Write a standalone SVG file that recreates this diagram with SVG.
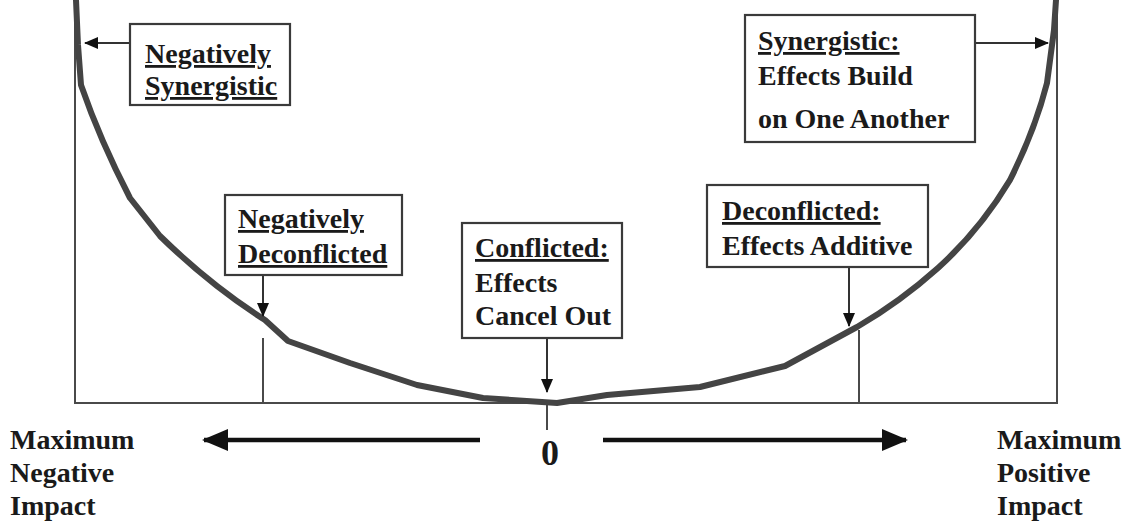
<svg xmlns="http://www.w3.org/2000/svg" width="1124" height="523" viewBox="0 0 1124 523">
  <style>
    .lbl { font-family: "Liberation Serif", "Times New Roman", serif; font-weight: bold; font-size: 28px; fill: #1a1a1a; }
    .u { text-decoration: underline; }
    .box { fill: #fff; stroke: #3a3a3a; stroke-width: 2.2; }
    .frame { fill: none; stroke: #4a4a4a; stroke-width: 2; }
    .curve { fill: none; stroke: #444; stroke-width: 6; stroke-linejoin: round; stroke-linecap: round; }
    .lead { stroke: #333; stroke-width: 2; fill: none; }
    .axis { stroke: #111; stroke-width: 4.5; fill: none; }
  </style>
  <defs>
    <marker id="tip" markerWidth="14" markerHeight="12" refX="13" refY="6" orient="auto" markerUnits="userSpaceOnUse">
      <path d="M0,0 L14,6 L0,12 Z" fill="#111"/>
    </marker>
    <marker id="bigtip" markerWidth="26" markerHeight="22" refX="24" refY="11" orient="auto" markerUnits="userSpaceOnUse">
      <path d="M0,0 L26,11 L0,22 Z" fill="#111"/>
    </marker>
  </defs>

  <rect width="1124" height="523" fill="#fff"/>

  <!-- frame: side walls, baseline and reference ticks -->
  <g id="frame">
    <path class="frame" d="M75,0 V403 H1057 V0"/>
    <line class="frame" x1="263" y1="338" x2="263" y2="403"/>
    <line class="frame" x1="859" y1="330" x2="859" y2="403"/>
    <line class="frame" x1="547" y1="403" x2="547" y2="430"/>
  </g>

  <!-- impact curve -->
  <g id="curve">
    <path class="curve" d="M76,0 L78,45 L81,85 Q100,140 130,198 L160,236 Q210,285 265,320 L288,341 L350,363 L417,385 L483,398 L557,403 L607,395 L700,387 L785,366 L857,327 Q900,302 938,268 Q980,230 1010,180 Q1035,130 1047,83 L1054,30 L1056,0"/>
  </g>

  <!-- connectors -->
  <g id="connectors">
    <line class="lead" x1="130" y1="43" x2="85" y2="43" marker-end="url(#tip)"/>
    <line class="lead" x1="975" y1="43" x2="1048" y2="43" marker-end="url(#tip)"/>
    <line class="lead" x1="263" y1="276" x2="263" y2="316" marker-end="url(#tip)"/>
    <line class="lead" x1="547" y1="338" x2="547" y2="392" marker-end="url(#tip)"/>
    <line class="lead" x1="849" y1="268" x2="849" y2="326" marker-end="url(#tip)"/>
    <line class="axis" x1="480" y1="440" x2="204" y2="440" marker-end="url(#bigtip)"/>
    <line class="axis" x1="603" y1="440" x2="906" y2="440" marker-end="url(#bigtip)"/>
  </g>

  <g id="neg-synergistic">
    <rect class="box" x="130" y="24" width="160" height="81"/>
    <text class="lbl u" x="145" y="63">Negatively</text>
    <text class="lbl u" x="145" y="95">Synergistic</text>
  </g>

  <g id="synergistic">
    <rect class="box" x="745" y="15" width="230" height="127"/>
    <text class="lbl u" x="758" y="50">Synergistic:</text>
    <text class="lbl" x="758" y="85">Effects Build</text>
    <text class="lbl" x="758" y="128">on One Another</text>
  </g>

  <g id="neg-deconflicted">
    <rect class="box" x="225" y="195" width="177" height="80"/>
    <text class="lbl u" x="238" y="228">Negatively</text>
    <text class="lbl u" x="238" y="263">Deconflicted</text>
  </g>

  <g id="conflicted">
    <rect class="box" x="462" y="223" width="160" height="115"/>
    <text class="lbl u" x="475" y="257">Conflicted:</text>
    <text class="lbl" x="475" y="292">Effects</text>
    <text class="lbl" x="475" y="325">Cancel Out</text>
  </g>

  <g id="deconflicted">
    <rect class="box" x="707" y="185" width="221" height="82"/>
    <text class="lbl u" x="722" y="220">Deconflicted:</text>
    <text class="lbl" x="722" y="255">Effects Additive</text>
  </g>

  <g id="zero">
    <text class="lbl" x="550" y="465" text-anchor="middle" style="font-size:36px">0</text>
  </g>

  <g id="max-negative">
    <text class="lbl" x="10" y="449">Maximum</text>
    <text class="lbl" x="10" y="482">Negative</text>
    <text class="lbl" x="10" y="515">Impact</text>
  </g>

  <g id="max-positive">
    <text class="lbl" x="997" y="449">Maximum</text>
    <text class="lbl" x="997" y="482">Positive</text>
    <text class="lbl" x="997" y="515">Impact</text>
  </g>
</svg>
